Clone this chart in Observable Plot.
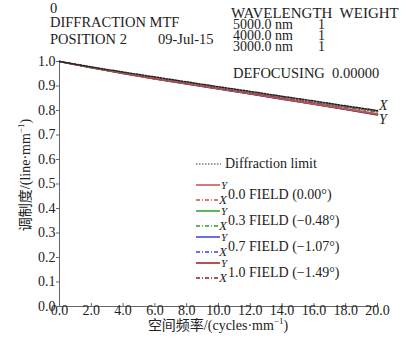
<!DOCTYPE html>
<html>
<head>
<meta charset="utf-8">
<script src="https://cdn.jsdelivr.net/npm/d3@7"></script>
<script src="https://cdn.jsdelivr.net/npm/@observablehq/plot@0.6"></script>
<style>
  html, body { margin: 0; padding: 0; background: #fff; }
  #chart svg { display: block; font-family: 'Liberation Serif', 'Times New Roman', serif; }
</style>
</head>
<body>
<div id="chart"></div>
<script>
// Spatial frequency samples (cycles/mm)
const freq = [0, 2, 4, 6, 8, 10, 12, 14, 16, 18, 20];
// MTF values
const diffLimit = [1.000, 0.978, 0.957, 0.937, 0.917, 0.897, 0.878, 0.858, 0.839, 0.819, 0.800];
const f00Y = [1.000, 0.975, 0.952, 0.930, 0.910, 0.890, 0.869, 0.848, 0.827, 0.806, 0.785];
const f00X = [1.000, 0.976, 0.954, 0.933, 0.913, 0.894, 0.874, 0.855, 0.836, 0.817, 0.798];
const f03Y = [1.000, 0.975, 0.952, 0.931, 0.910, 0.890, 0.869, 0.849, 0.828, 0.807, 0.787];
const f03X = [1.000, 0.976, 0.954, 0.933, 0.913, 0.894, 0.874, 0.855, 0.835, 0.816, 0.797];
const f07Y = [1.000, 0.975, 0.952, 0.930, 0.909, 0.889, 0.868, 0.847, 0.826, 0.805, 0.784];
const f07X = [1.000, 0.976, 0.954, 0.933, 0.913, 0.893, 0.873, 0.854, 0.834, 0.815, 0.796];
const f10Y = [1.000, 0.974, 0.951, 0.929, 0.908, 0.888, 0.867, 0.846, 0.825, 0.804, 0.782];
const f10X = [1.000, 0.976, 0.953, 0.932, 0.912, 0.893, 0.873, 0.853, 0.833, 0.814, 0.795];

const fieldNames = ["0.0 FIELD (0.00°)", "0.3 FIELD (\u22120.48°)", "0.7 FIELD (\u22121.07°)", "1.0 FIELD (\u22121.49°)"];
const fieldColors = ["#c8504a", "#2e9a2e", "#3c3cf0", "#a01818"];
const fieldY = [f00Y, f03Y, f07Y, f10Y];
const fieldX = [f00X, f03X, f07X, f10X];

const xTicks = [0, 2, 4, 6, 8, 10, 12, 14, 16, 18, 20];
const yTicks = [0, 0.1, 0.2, 0.3, 0.4, 0.5, 0.6, 0.7, 0.8, 0.9, 1.0];

const headerLeft = [
  {text: "0", x: 50, y: 13},
  {text: "DIFFRACTION MTF", x: 50, y: 27},
  {text: "POSITION 2", x: 50, y: 44},
  {text: "09-Jul-15", x: 158, y: 44}
];
const headerRight = [
  {text: "WAVELENGTH  WEIGHT", x: 231, y: 18, size: 15},
  {text: "5000.0 nm", x: 233, y: 29, size: 14},
  {text: "1", x: 318, y: 29, size: 14},
  {text: "4000.0 nm", x: 233, y: 40, size: 14},
  {text: "1", x: 318, y: 40, size: 14},
  {text: "3000.0 nm", x: 233, y: 51, size: 14},
  {text: "1", x: 318, y: 51, size: 14},
  {text: "DEFOCUSING  0.00000", x: 233, y: 78, size: 14.5}
];

// Build tidy rows
const rows = [];
freq.forEach((f, i) => rows.push({f, v: diffLimit[i], s: "diff"}));
fieldY.forEach((arr, k) => freq.forEach((f, i) => rows.push({f, v: arr[i], s: "Y" + k, k})));
fieldX.forEach((arr, k) => freq.forEach((f, i) => rows.push({f, v: arr[i], s: "X" + k, k})));

const serif = "'Liberation Serif', 'Times New Roman', serif";

const marks = [
  Plot.ruleX([0], {stroke: "#666", strokeWidth: 1}),
  Plot.ruleY([0], {stroke: "#666", strokeWidth: 1}),
  Plot.ruleX(xTicks, {y1: 0, y2: 0.012, stroke: "#666"}),
  Plot.axisX({ticks: xTicks, tickFormat: d3.format(".1f"), tickSize: 0, tickPadding: 0, dy: -1, fontSize: 14, fontFamily: serif, label: null, fill: "#222"}),
  Plot.axisY({ticks: yTicks, tickFormat: d3.format(".1f"), tickSize: 3, tickPadding: 1, fontSize: 14, fontFamily: serif, label: null, fill: "#222", stroke: "#666"})
];
[3, 2, 1, 0].forEach(k => {
  marks.push(Plot.line(rows.filter(d => d.s === "Y" + k), {x: "f", y: "v", stroke: fieldColors[k], strokeWidth: 1.5}));
});
[3, 2, 1, 0].forEach(k => {
  marks.push(Plot.line(rows.filter(d => d.s === "X" + k), {x: "f", y: "v", stroke: fieldColors[k], strokeWidth: 1.4, strokeDasharray: "4,2,1,2"}));
});
marks.push(Plot.line(rows.filter(d => d.s === "diff"), {x: "f", y: "v", stroke: "#222", strokeWidth: 1.5, strokeDasharray: "1.5,1.5"}));

const chart = Plot.plot({
  width: 412,
  height: 352,
  marginLeft: 59,
  marginRight: 35,
  marginTop: 61,
  marginBottom: 46,
  x: {domain: [0, 20]},
  y: {domain: [0, 1]},
  style: {fontFamily: serif, fontSize: "14px", background: "#fff", color: "#222"},
  marks
});
chart.setAttribute("font-family", serif);
document.getElementById("chart").appendChild(chart);

const svg = d3.select(chart);
const g = svg.append("g").attr("font-family", serif).attr("fill", "#222").attr("text-anchor", "start");

headerLeft.forEach(h => g.append("text").attr("x", h.x).attr("y", h.y).attr("font-size", 14.5).text(h.text));
headerRight.forEach(h => g.append("text").attr("x", h.x).attr("y", h.y).attr("font-size", h.size).text(h.text));

// End labels for curves
g.append("text").attr("x", 379).attr("y", 110).attr("font-size", 14).attr("font-style", "italic").text("X");
g.append("text").attr("x", 379).attr("y", 124).attr("font-size", 14).attr("font-style", "italic").text("Y");

// Legend
const lg = g.append("g");
lg.append("line").attr("x1", 196).attr("x2", 221).attr("y1", 164).attr("y2", 164)
  .attr("stroke", "#333").attr("stroke-width", 1).attr("stroke-dasharray", "1.5,1.5");
lg.append("text").attr("x", 225).attr("y", 168).attr("font-size", 14).text("Diffraction limit");
fieldNames.forEach((name, k) => {
  const base = 199 + k * 26;
  lg.append("line").attr("x1", 196).attr("x2", 220).attr("y1", base - 14).attr("y2", base - 14)
    .attr("stroke", fieldColors[k]).attr("stroke-width", 1.5);
  lg.append("line").attr("x1", 196).attr("x2", 220).attr("y1", base + 1).attr("y2", base + 1)
    .attr("stroke", fieldColors[k]).attr("stroke-width", 1.3).attr("stroke-dasharray", "4,2,1,2");
  lg.append("text").attr("x", 221).attr("y", base - 10).attr("font-size", 11).attr("font-style", "italic").text("Y");
  lg.append("text").attr("x", 219).attr("y", base + 5).attr("font-size", 13).attr("font-style", "italic").text("X");
  lg.append("text").attr("x", 228).attr("y", base).attr("font-size", 14).text(name);
});

// Axis titles
const cjk = "'Liberation Serif', 'Noto Sans CJK SC', serif";
const yl = g.append("text").attr("transform", "translate(30,175) rotate(-90)")
  .attr("text-anchor", "middle").attr("font-size", 14).attr("font-family", cjk);
yl.append("tspan").text("调制度/(line·mm");
yl.append("tspan").attr("dy", -6).attr("font-size", 9).text("\u22121");
yl.append("tspan").attr("dy", 6).text(")");

const xl = g.append("text").attr("x", 218).attr("y", 330)
  .attr("text-anchor", "middle").attr("font-size", 14).attr("font-family", cjk);
xl.append("tspan").text("空间频率/(cycles·mm");
xl.append("tspan").attr("dy", -6).attr("font-size", 9).text("\u22121");
xl.append("tspan").attr("dy", 6).text(")");
</script>
</body>
</html>
